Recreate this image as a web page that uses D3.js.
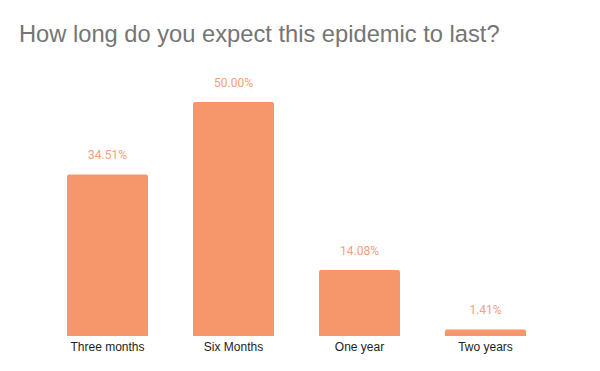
<!DOCTYPE html>
<html>
<head>
<meta charset="utf-8">
<script src="https://cdn.jsdelivr.net/npm/d3@7"></script>
<style>
	body { margin: 0; background: #fff; }
	svg { display: block; }
</style>
</head>
<body>
<svg id="chart" width="600" height="371"></svg>
<script>
// chart data
var categories = ["Three months", "Six Months", "One year", "Two years"];
var percentValues = [34.51, 50.00, 14.08, 1.41];
var valueLabels = ["34.51%", "50.00%", "14.08%", "1.41%"];

var svg = d3.select("#chart");
var width = 600, height = 371;
var baseline = 336, plotTop = 102;
var barColor = "#f5976a";

var x = d3.scaleBand().domain(categories).range([22, 571]).padding(0.357);
var y = d3.scaleLinear().domain([0, 50]).range([baseline, plotTop]);

svg.append("text")
	.attr("x", 19).attr("y", 42)
	.style("font-family", "'Liberation Sans', Arial, sans-serif")
	.style("font-size", "23.7px")
	.style("fill", "#757575")
	.text("How long do you expect this epidemic to last?");

// bar with slightly rounded top corners
function barPath(x0, y0, w, h) {
	var r = Math.min(2, h / 2);
	return "M" + x0 + "," + (y0 + h) +
		"V" + (y0 + r) +
		"Q" + x0 + "," + y0 + " " + (x0 + r) + "," + y0 +
		"H" + (x0 + w - r) +
		"Q" + (x0 + w) + "," + y0 + " " + (x0 + w) + "," + (y0 + r) +
		"V" + (y0 + h) + "Z";
}

var bars = svg.append("g").selectAll("g")
	.data(categories)
	.enter().append("g");

bars.append("path")
	.attr("d", function (d, i) {
		return barPath(x(d), y(percentValues[i]), x.bandwidth(), baseline - y(percentValues[i]));
	})
	.style("fill", barColor);

bars.append("text")
	.attr("x", function (d) { return x(d) + x.bandwidth() / 2; })
	.attr("y", function (d, i) { return y(percentValues[i]) - 15; })
	.attr("text-anchor", "middle")
	.style("font-family", "Roboto, sans-serif")
	.style("font-size", "12px")
	.style("fill", "#f5a07a")
	.text(function (d, i) { return valueLabels[i]; });

var xAxis = svg.append("g")
	.attr("transform", "translate(0," + baseline + ")")
	.call(d3.axisBottom(x).tickSize(0).tickPadding(6));
xAxis.select(".domain").remove();
xAxis.selectAll("text")
	.attr("dy", "0.71em")
	.style("font-family", "'Liberation Sans', Arial, sans-serif")
	.style("font-size", "12px")
	.style("fill", "#222");
</script>
</body>
</html>
